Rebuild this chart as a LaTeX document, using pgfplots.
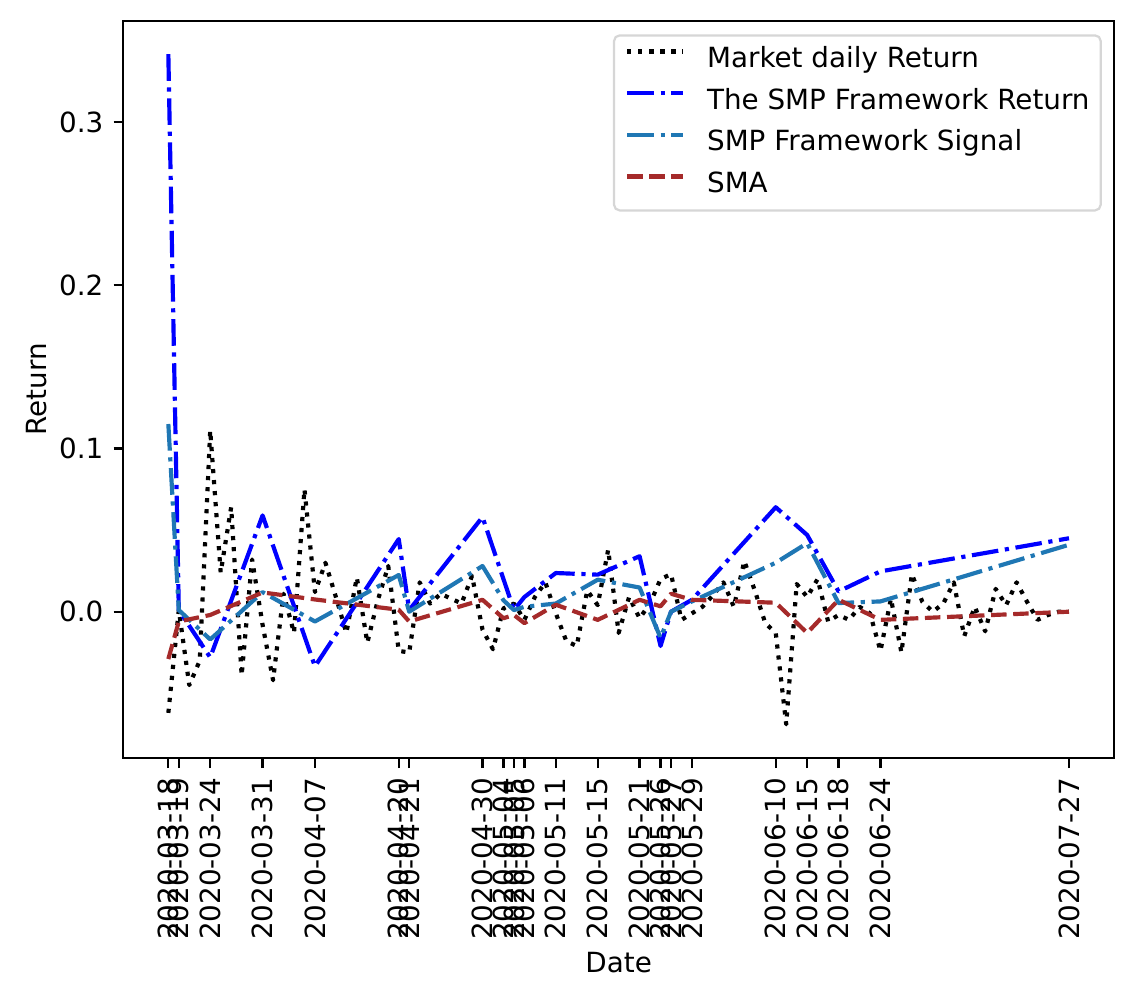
\documentclass[border=0pt]{standalone}
\usepackage{fontspec}
\setmainfont{DejaVu Sans}
\usepackage{pgfplots}
\usepackage{pgfplotstable}
\pgfplotsset{compat=1.18}
\definecolor{mplC0}{HTML}{1F77B4}
\definecolor{mplbrown}{HTML}{A52A2A}
\definecolor{legedge}{RGB}{214,214,214}

\pgfplotstableread{
x y
0 -0.062
1 0.001
2 -0.045
3 -0.030
4 0.111
5 0.024
6 0.064
7 -0.039
8 0.032
9 -0.008
10 -0.042
11 0.011
12 -0.013
13 0.075
14 0.012
15 0.030
16 0.009
17 -0.013
18 0.021
19 -0.019
20 0.007
21 0.028
22 -0.024
23 -0.025
24 0.018
25 0.005
26 0.011
27 0.008
28 0.005
29 0.022
30 -0.011
31 -0.023
32 0.002
33 0.005
34 -0.005
35 0.009
36 0.018
37 -0.001
38 -0.018
39 -0.021
40 0.013
41 0.004
42 0.038
43 -0.013
44 0.009
45 -0.004
46 0.005
47 0.020
48 0.023
49 -0.005
50 -0.001
51 0.003
52 0.010
53 0.018
54 0.003
55 0.031
56 0.013
57 -0.007
58 -0.013
59 -0.069
60 0.017
61 0.009
62 0.020
63 -0.006
64 -0.002
65 -0.005
66 0.003
67 -0.001
68 -0.024
69 0.008
70 -0.025
71 0.023
72 0.006
73 0.000
74 0.005
75 0.018
76 -0.015
77 0.003
78 -0.012
79 0.014
80 0.004
81 0.018
82 0.006
83 -0.005
84 -0.002
85 0.000
86 0.000
}\market

\pgfplotstableread{
x y
0 0.3416
1 0.001
4 -0.028
9 0.059
14 -0.0335
22 0.0445
23 0.001
30 0.058
32 0.020
33 0.001
34 0.009
37 0.0237
41 0.0227
45 0.034
47 -0.021
48 0.000
50 0.0073
58 0.064
61 0.047
64 0.0124
68 0.0247
86 0.045
}\smpret

\pgfplotstableread{
x y
0 0.115
1 0.001
4 -0.017
9 0.012
14 -0.006
22 0.0225
23 0.000
30 0.028
32 0.007
33 0.001
34 0.003
37 0.005
41 0.0196
45 0.0148
47 -0.016
48 0.000
50 0.0063
58 0.030
61 0.042
64 0.0053
68 0.0063
86 0.041
}\smpsig

\pgfplotstableread{
x y
0 -0.029
1 -0.006
4 -0.002
9 0.0118
14 0.0075
22 0.0012
23 -0.006
30 0.0073
32 -0.004
33 -0.002
34 -0.007
37 0.0043
41 -0.005
45 0.0073
47 0.0033
48 0.011
50 0.0073
58 0.0055
61 -0.013
64 0.0073
68 -0.005
86 0.000
}\sma

\begin{document}
\fontsize{10}{12}\selectfont
\begin{tikzpicture}
\begin{axis}[
  name=ax,
  scale only axis,
  width=356.65pt, height=265.54pt,
  xmin=-4.3, xmax=90.3, ymin=-0.0898, ymax=0.3621,
  axis line style={line width=0.8pt, black},
  every tick/.style={black, line width=0.8pt},
  tick align=outside,
  major tick length=3.5pt,
  tick pos=left,
  /pgf/number format/assume math mode=true,
  xtick={0,1,4,9,14,22,23,30,32,33,34,37,41,45,47,48,50,58,61,64,68,86},
  xticklabels={2020-03-18,2020-03-19,2020-03-24,2020-03-31,2020-04-07,2020-04-20,2020-04-21,2020-04-30,2020-05-04,2020-05-05,2020-05-06,2020-05-11,2020-05-15,2020-05-21,2020-05-26,2020-05-27,2020-05-29,2020-06-10,2020-06-15,2020-06-18,2020-06-24,2020-07-27},
  ytick={0,0.1,0.2,0.3},
  yticklabels={0.0,0.1,0.2,0.3},
  xticklabel style={rotate=90, anchor=east, inner sep=0pt, font=\fontsize{10}{12}\selectfont},
  yticklabel style={anchor=east, inner sep=0pt, font=\fontsize{10}{12}\selectfont},
  xticklabel shift=3.5pt,
  yticklabel shift=3.5pt,
  xlabel={Date}, ylabel={Return},
  xlabel style={at={([yshift=-73.7pt]rel axis cs:0.5,0)}, anchor=center, inner sep=0pt, font=\fontsize{10}{12}\selectfont},
  ylabel style={at={([xshift=-31.4pt]rel axis cs:0,0.5)}, anchor=center, inner sep=0pt, font=\fontsize{10}{12}\selectfont},
  legend cell align=left,
  legend image code/.code={\draw[#1] (0pt,3.2pt) -- (20pt,3.2pt);},
  legend style={at={(rel axis cs:1,1)}, anchor=north east, xshift=-4.4pt, yshift=-4.9pt,
    draw=legedge, line width=0.8pt, rounded corners=2pt, fill=white,
    inner xsep=4pt, inner ysep=4pt, row sep=5pt, column sep=8pt,
    font=\fontsize{10}{12}\selectfont,
    nodes={inner sep=0pt, text height=7.6pt, text depth=2.4pt}},
]
\addplot[black, mark=none, line width=1.5pt, line join=round, dash pattern=on 1.5pt off 2.475pt] table {\market};
\addlegendentry{Market daily Return}
\addplot[blue, mark=none, line width=1.5pt, line join=round, dash pattern=on 9.6pt off 2.4pt on 1.5pt off 2.4pt] table {\smpret};
\addlegendentry{The SMP Framework Return}
\addplot[mplC0, mark=none, line width=1.5pt, line join=round, dash pattern=on 9.6pt off 2.4pt on 1.5pt off 2.4pt] table {\smpsig};
\addlegendentry{SMP Framework Signal}
\addplot[mplbrown, mark=none, line width=1.5pt, line join=round, dash pattern=on 5.55pt off 2.4pt] table {\sma};
\addlegendentry{SMA}
\end{axis}
\pgfresetboundingbox
\path ([shift={(-44.39pt,-86.65pt)}]ax.south west) rectangle ([shift={(7.2pt,7.45pt)}]ax.north east);
\end{tikzpicture}
\end{document}
